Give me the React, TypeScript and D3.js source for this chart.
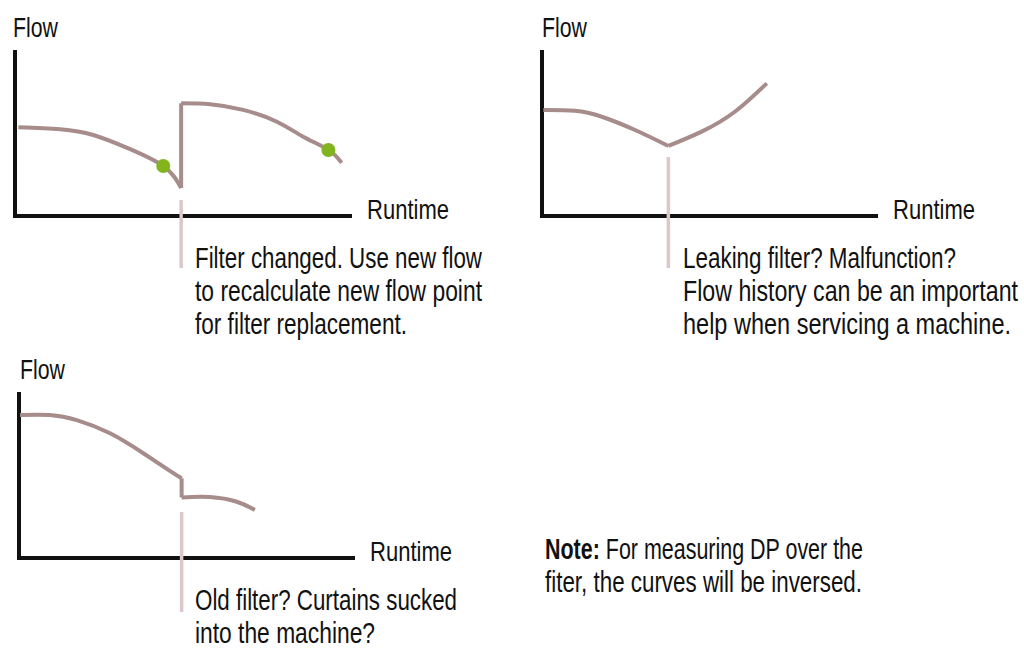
import React from "react";
import * as d3 from "d3";

type Pt = [number, number];

// Panel 1: filter change
const p1SegA: Pt[] = [[1.0, 53.4], [13.4, 52.2], [23.2, 48.8], [33.1, 41.2], [44.0, 30.1], [49.3, 16.9]];
const p1Jump: Pt[] = [[49.3, 16.9], [49.3, 67.9]];
const p1SegB: Pt[] = [[49.3, 67.9], [57.9, 67.3], [67.7, 63.9], [77.7, 56.8], [85.5, 47.8], [93.0, 39.8], [96.9, 32.1]];
const p1Dots: Pt[] = [[44.0, 30.1], [93.0, 39.8]];
const p1Marker = 49.3;
const p1Text = ["Filter changed. Use new flow", "to recalculate new flow point", "for filter replacement."];

// Panel 2: leaking filter
const p2SegA: Pt[] = [[0.4, 63.9], [9.8, 63.4], [17.8, 59.8], [27.7, 51.8], [37.6, 42.2]];
const p2SegB: Pt[] = [[37.6, 42.2], [47.5, 50.8], [57.4, 62.8], [66.9, 79.9]];
const p2Marker = 37.6;
const p2Text = ["Leaking filter? Malfunction?", "Flow history can be an important", "help when servicing a machine."];

// Panel 3: old filter
const p3SegA: Pt[] = [[0.3, 86.1], [9.2, 86.1], [17.2, 83.1], [27.1, 75.1], [37.0, 63.1], [44.9, 52.5], [48.4, 48.0]];
const p3Jump: Pt[] = [[48.4, 48.0], [48.4, 36.5]];
const p3SegB: Pt[] = [[48.4, 36.5], [56.8, 36.7], [64.8, 33.9], [70.2, 28.9]];
const p3Marker = 48.4;
const p3Text = ["Old filter? Curtains sucked", "into the machine?"];

const noteBold = "Note:";
const noteLines = [" For measuring DP over the", "fiter, the curves will be inversed."];

const AXIS = "#111";
const CURVE = "#a68c8a";
const MARK = "#dcc8c8";
const GREEN = "#82b41e";
const FONT = "'Liberation Sans', Arial, sans-serif";

type PanelProps = {
  x0: number; x1: number; yTop: number; yBot: number;
  smooth: Pt[][]; straight: Pt[][]; dots?: Pt[];
  marker: number; markTop: number; markBot: number;
  text: string[]; textW: number[]; textX: number; textY: number;
  flowY: number; flowX: number; runY: number;
};

function Panel(p: PanelProps) {
  const x = d3.scaleLinear().domain([0, 100]).range([p.x0, p.x1]);
  const y = d3.scaleLinear().domain([0, 100]).range([p.yBot, p.yTop]);
  const sm = d3.line<Pt>().x(d => x(d[0])).y(d => y(d[1])).curve(d3.curveNatural);
  const st = d3.line<Pt>().x(d => x(d[0])).y(d => y(d[1]));
  return (
    <g>
      <text x={p.flowX} y={p.flowY} fontSize={27} fill="#111" fontFamily={FONT}
        textLength={45} lengthAdjust="spacingAndGlyphs">Flow</text>
      <path d={`M${p.x0},${p.yTop}V${p.yBot}H${p.x1}`} fill="none" stroke={AXIS} strokeWidth={4} />
      <line x1={x(p.marker)} x2={x(p.marker)} y1={p.markTop} y2={p.markBot} stroke={MARK} strokeWidth={3.5} />
      <text x={p.x1 + 15} y={p.runY} fontSize={28} fill="#111" fontFamily={FONT}
        textLength={82} lengthAdjust="spacingAndGlyphs">Runtime</text>
      {p.smooth.map((s, i) => (
        <path key={"s" + i} d={sm(s) || ""} fill="none" stroke={CURVE} strokeWidth={4} />
      ))}
      {p.straight.map((s, i) => (
        <path key={"t" + i} d={st(s) || ""} fill="none" stroke={CURVE} strokeWidth={4} />
      ))}
      {(p.dots || []).map((d, i) => (
        <circle key={"d" + i} cx={x(d[0])} cy={y(d[1])} r={7} fill={GREEN} />
      ))}
      {p.text.map((t, i) => (
        <text key={"x" + i} x={p.textX} y={p.textY + i * 33} fontSize={29} fill="#111" fontFamily={FONT}
          textLength={p.textW[i]} lengthAdjust="spacingAndGlyphs">{t}</text>
      ))}
    </g>
  );
}

export default function App() {
  return (
    <svg width={1024} height={658} style={{ position: "absolute", left: 0, top: 0, background: "#fff" }}>
      <rect width={1024} height={658} fill="#fff" />
      <Panel x0={15} x1={352} yTop={50} yBot={216}
        smooth={[p1SegA, p1SegB]} straight={[p1Jump]} dots={p1Dots}
        marker={p1Marker} markTop={200} markBot={268}
        text={p1Text} textW={[287, 287, 212]} textX={195} textY={268}
        flowX={13} flowY={37} runY={219} />
      <Panel x0={542} x1={878} yTop={50} yBot={216}
        smooth={[p2SegA, p2SegB]} straight={[]}
        marker={p2Marker} markTop={157} markBot={268}
        text={p2Text} textW={[273, 335, 328]} textX={683} textY={268}
        flowX={542} flowY={37} runY={219} />
      <Panel x0={19} x1={355} yTop={392} yBot={558}
        smooth={[p3SegA, p3SegB]} straight={[p3Jump]}
        marker={p3Marker} markTop={512} markBot={612}
        text={p3Text} textW={[262, 180]} textX={195} textY={610}
        flowX={20} flowY={379} runY={561} />
      <text x={545} y={559} fontSize={29} fill="#111" fontFamily={FONT}
        textLength={318} lengthAdjust="spacingAndGlyphs">
        <tspan fontWeight="bold">{noteBold}</tspan>{noteLines[0]}
      </text>
      <text x={545} y={592} fontSize={29} fill="#111" fontFamily={FONT}
        textLength={317} lengthAdjust="spacingAndGlyphs">{noteLines[1]}</text>
    </svg>
  );
}
